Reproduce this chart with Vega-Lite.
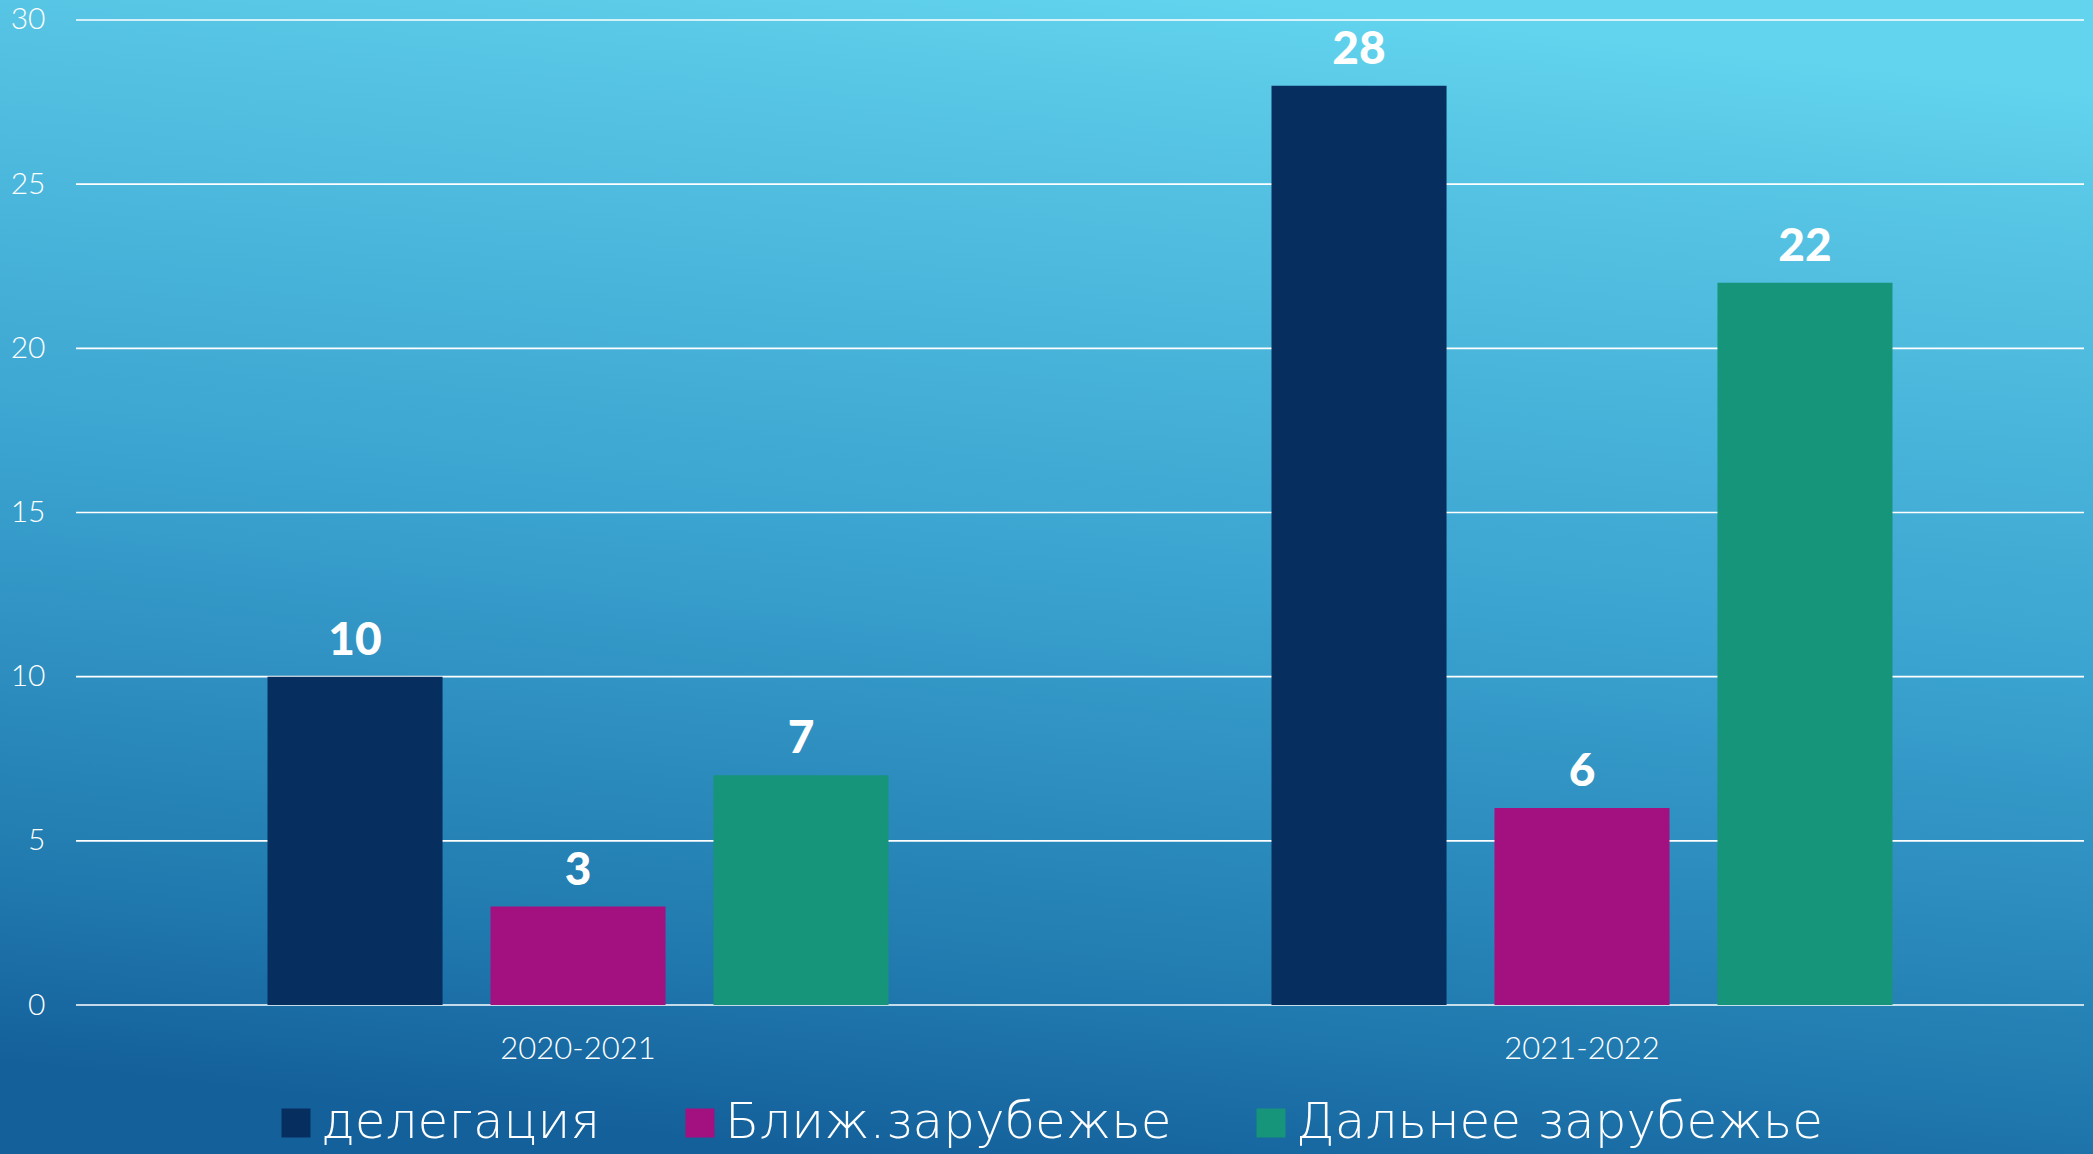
{
  "$schema": "https://vega.github.io/schema/vega-lite/v6.json",
  "width": 2093,
  "height": 1154,
  "autosize": {"type": "none"},
  "padding": 0,
  "background": "#3aa2cf",
  "config": {
    "view": {
      "stroke": null,
      "fill": {
        "gradient": "linear",
        "x1": 0.6, "y1": 0, "x2": 0.4, "y2": 1,
        "stops": [
          {"offset": 0, "color": "#62d4ee"},
          {"offset": 0.1, "color": "#58c6e5"},
          {"offset": 0.5, "color": "#3aa2cf"},
          {"offset": 0.85, "color": "#2079ae"},
          {"offset": 1, "color": "#14609b"}
        ]
      }
    },
    "axisX": {"title": null, "orient": "bottom", "offset": -96, "labelPadding": 0, "ticks": false, "tickSize": 0, "domain": false, "grid": false,
              "labelAngle": 0, "labelBaseline": "alphabetic", "labelFont": "Lato", "labelFontWeight": 300, "labelFontSize": 31, "labelColor": "#ffffff"},
    "axisY": {"title": null, "offset": -45, "labelPadding": 0, "ticks": false, "tickSize": 0, "domain": false, "grid": false,
              "labelAlign": "right", "labelBaseline": "middle", "labelFont": "Lato", "labelFontWeight": 300, "labelFontSize": 30, "labelColor": "#ffffff"}
  },
  "layer": [
    {
      "data": {"values": [{"g": 0}, {"g": 5}, {"g": 10}, {"g": 15}, {"g": 20}, {"g": 25}, {"g": 30}]},
      "mark": {"type": "rule", "color": "#ffffff", "strokeWidth": 1.6},
      "encoding": {
        "x": {"datum": "2020-2021", "type": "nominal", "bandPosition": -0.30837,
              "axis": {"title": null},
              "scale": {"domain": ["2020-2021", "2021-2022"], "paddingInner": 0.38147, "paddingOuter": 0.23307, "align": 0.5716}},
        "x2": {"datum": "2021-2022", "bandPosition": 1.30837},
        "y": {"field": "g", "type": "quantitative",
              "axis": {"title": null, "values": [0, 5, 10, 15, 20, 25, 30]},
              "scale": {"domain": [-4.538, 30.609], "nice": false, "zero": false}}
      }
    },
    {
      "data": {"values": [
        {"year": "2020-2021", "cat": "делегация", "value": 10},
        {"year": "2020-2021", "cat": "Ближ.зарубежье", "value": 3},
        {"year": "2020-2021", "cat": "Дальнее зарубежье", "value": 7},
        {"year": "2021-2022", "cat": "делегация", "value": 28},
        {"year": "2021-2022", "cat": "Ближ.зарубежье", "value": 6},
        {"year": "2021-2022", "cat": "Дальнее зарубежье", "value": 22}
      ]},
      "layer": [
        {
          "mark": {"type": "bar"},
          "encoding": {
            "x": {"field": "year", "type": "nominal",
                  "scale": {"domain": ["2020-2021", "2021-2022"], "paddingInner": 0.38147, "paddingOuter": 0.23307, "align": 0.5716},
                  "axis": {"title": null}},
            "xOffset": {"field": "cat", "type": "nominal",
                        "scale": {"domain": ["делегация", "Ближ.зарубежье", "Дальнее зарубежье"], "paddingInner": 0.215, "paddingOuter": 0}},
            "y": {"field": "value", "type": "quantitative",
                  "scale": {"domain": [-4.538, 30.609], "nice": false, "zero": false},
                  "axis": {"title": null, "values": [0, 5, 10, 15, 20, 25, 30]}},
            "y2": {"datum": 0},
            "color": {"field": "cat", "type": "nominal",
                      "scale": {"domain": ["делегация", "Ближ.зарубежье", "Дальнее зарубежье"], "range": ["#062f5f", "#a31080", "#16957a"]},
                      "legend": {"orient": "none", "legendX": 271, "legendY": 1098, "direction": "horizontal", "title": null,
                                 "symbolType": "square", "symbolSize": 841, "symbolStrokeWidth": 0, "symbolOpacity": 1,
                                 "labelFont": "DejaVu Sans", "labelFontWeight": 200, "labelFontSize": 50, "labelColor": "#ffffff",
                                 "labelOffset": 0, "columnPadding": 74, "padding": 0, "labelLimit": 0}}
          }
        },
        {
          "mark": {"type": "text", "color": "#ffffff", "font": "Lato", "fontWeight": 900, "fontSize": 46, "baseline": "alphabetic", "align": "center", "dy": -22},
          "encoding": {
            "x": {"field": "year", "type": "nominal", "axis": {"title": null}},
            "xOffset": {"field": "cat", "type": "nominal"},
            "y": {"field": "value", "type": "quantitative", "axis": {"title": null, "values": [0, 5, 10, 15, 20, 25, 30]}},
            "text": {"field": "value", "type": "quantitative"}
          }
        }
      ]
    }
  ]
}
